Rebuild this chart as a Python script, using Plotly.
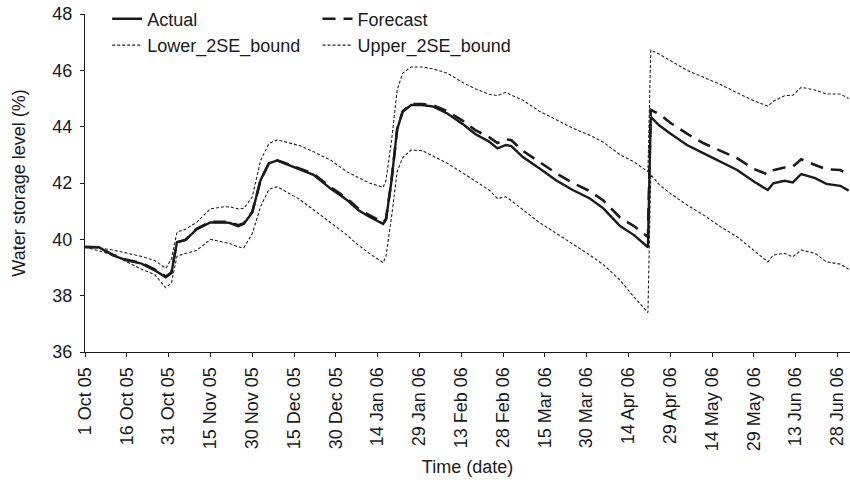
import pandas as pd
import plotly.graph_objects as go

# Days after 1 Oct 2005
day_offsets = [0, 5, 10, 15, 20, 25, 29, 31, 33, 36, 40, 45, 50, 52, 55, 57, 60, 63, 66, 69,
               72, 77, 82, 88, 94, 98, 102, 107, 108, 110, 112, 114, 117, 121, 125, 130, 136, 140,
               145, 148, 151, 153, 157, 163, 169, 175, 181, 186, 192, 197, 202, 203, 206, 210,
               216, 222, 228, 234, 240, 245, 247, 251, 254, 257, 262, 266, 271, 274]

actual = [39.73, 39.72, 39.43, 39.25, 39.15, 38.9, 38.65, 38.8, 39.9, 39.97, 40.35, 40.6, 40.6, 40.58,
          40.47, 40.55, 40.95, 42.1, 42.7, 42.8, 42.68, 42.49, 42.29, 41.81, 41.4, 41.04, 40.8, 40.55,
          40.69, 42.1, 43.9, 44.53, 44.77, 44.77, 44.71, 44.47, 44.06, 43.74, 43.47, 43.23, 43.35,
          43.31, 42.93, 42.52, 42.1, 41.75, 41.46, 41.1, 40.47, 40.15, 39.72, 44.35, 44.05, 43.76,
          43.35, 43.05, 42.76, 42.46, 42.05, 41.75, 41.99, 42.08, 42.02, 42.32, 42.17, 41.97, 41.9, 41.73]

forecast = [39.73, 39.72, 39.45, 39.27, 39.17, 38.93, 38.68, 38.82, 39.9, 39.98, 40.37, 40.62, 40.62, 40.6,
            40.5, 40.57, 40.97, 42.1, 42.7, 42.8, 42.7, 42.52, 42.33, 41.86, 41.46, 41.1, 40.86, 40.6,
            40.72, 42.1, 43.9, 44.55, 44.8, 44.8, 44.76, 44.55, 44.18, 43.88, 43.63, 43.42, 43.55,
            43.52, 43.15, 42.75, 42.35, 42.0, 41.72, 41.38, 40.77, 40.47, 40.08, 44.6, 44.45, 44.14,
            43.75, 43.41, 43.15, 42.88, 42.5, 42.3, 42.45, 42.55, 42.58, 42.84, 42.64, 42.49, 42.46, 42.3]

lower_2se = [39.73, 39.6, 39.45, 39.2, 38.95, 38.75, 38.28, 38.45, 39.4, 39.5, 39.6, 40.0, 39.9, 39.85,
             39.73, 39.7, 40.2, 41.16, 41.78, 41.87, 41.7, 41.42, 41.05, 40.6, 40.15, 39.8, 39.5, 39.17,
             39.4, 40.8, 42.4, 42.9, 43.17, 43.15, 42.95, 42.7, 42.33, 42.08, 41.75, 41.45, 41.51,
             41.37, 41.05, 40.6, 40.22, 39.85, 39.45, 39.1, 38.55, 37.95, 37.4, 42.3, 41.95, 41.63,
             41.22, 40.86, 40.45, 40.09, 39.62, 39.2, 39.44, 39.5, 39.38, 39.62, 39.5, 39.2, 39.12, 38.94]

upper_2se = [39.73, 39.7, 39.62, 39.5, 39.4, 39.25, 38.97, 39.3, 40.25, 40.36, 40.6, 41.08, 41.16, 41.15,
             41.08, 41.1, 41.5, 42.8, 43.4, 43.53, 43.45, 43.33, 43.11, 42.82, 42.4, 42.2, 42.0, 41.85,
             42.1, 43.5, 45.3, 45.9, 46.12, 46.12, 46.05, 45.9, 45.54, 45.35, 45.15, 45.1, 45.22,
             45.12, 44.95, 44.55, 44.25, 43.95, 43.7, 43.45, 43.0, 42.75, 42.4, 46.72, 46.58, 46.35,
             46.0, 45.75, 45.5, 45.2, 44.92, 44.73, 44.9, 45.1, 45.12, 45.4, 45.3, 45.16, 45.16, 45.0]

tick_dates = ["2005-10-01", "2005-10-16", "2005-10-31", "2005-11-15", "2005-11-30", "2005-12-15",
              "2005-12-30", "2006-01-14", "2006-01-29", "2006-02-13", "2006-02-28", "2006-03-15",
              "2006-03-30", "2006-04-14", "2006-04-29", "2006-05-14", "2006-05-29", "2006-06-13",
              "2006-06-28"]
tick_labels = ["1 Oct 05", "16 Oct 05", "31 Oct 05", "15 Nov 05", "30 Nov 05", "15 Dec 05",
               "30 Dec 05", "14 Jan 06", "29 Jan 06", "13 Feb 06", "28 Feb 06", "15 Mar 06",
               "30 Mar 06", "14 Apr 06", "29 Apr 06", "14 May 06", "29 May 06", "13 Jun 06",
               "28 Jun 06"]
y_ticks = [36, 38, 40, 42, 44, 46, 48]

dates = pd.Timestamp("2005-10-01") + pd.to_timedelta(day_offsets, unit="D")

FONT = "Liberation Sans, Arial, sans-serif"
INK = "#1a1a1a"

fig = go.Figure()
fig.add_trace(go.Scatter(x=dates, y=actual, name="Actual", mode="lines", legend="legend",
                         line=dict(color=INK, width=2.4)))
fig.add_trace(go.Scatter(x=dates, y=forecast, name="Forecast", mode="lines", legend="legend2",
                         line=dict(color=INK, width=2.6, dash="13px,8px")))
fig.add_trace(go.Scatter(x=dates, y=lower_2se, name="Lower_2SE_bound", mode="lines", legend="legend",
                         line=dict(color="#222222", width=1.1, dash="3px,2px")))
fig.add_trace(go.Scatter(x=dates, y=upper_2se, name="Upper_2SE_bound", mode="lines", legend="legend2",
                         line=dict(color="#222222", width=1.1, dash="3px,2px")))

leg_common = dict(orientation="v", yanchor="top", xanchor="left", bgcolor="rgba(0,0,0,0)",
                  font=dict(size=18, color=INK), tracegroupgap=0, itemwidth=30, borderwidth=0)

fig.update_layout(
    width=850, height=485,
    margin=dict(l=85, r=0, t=14, b=133, autoexpand=False),
    paper_bgcolor="white", plot_bgcolor="white",
    font=dict(family=FONT, size=18, color=INK),
    showlegend=True,
    legend=dict(x=0.029, y=1.04, **leg_common),
    legend2=dict(x=0.304, y=1.04, **leg_common),
    xaxis=dict(
        range=["2005-10-01", "2006-07-02 12:00"], automargin=False,
        tickmode="array", tickvals=tick_dates, ticktext=tick_labels, tickangle=-90,
        ticks="outside", ticklen=4, tickcolor=INK, showline=True, linecolor=INK,
        linewidth=1, showgrid=False, zeroline=False, ticklabelstandoff=3,
        ticklabeloverflow="allow", tickfont=dict(size=18),
        title=dict(text="Time (date)", standoff=10, font=dict(size=18)),
    ),
    yaxis=dict(
        range=[36, 48], tickmode="array", tickvals=y_ticks, automargin=False,
        ticks="outside", ticklen=4, tickcolor=INK, showline=True, linecolor=INK,
        linewidth=1, showgrid=False, zeroline=False, ticklabelstandoff=4,
        ticklabeloverflow="allow", tickfont=dict(size=18),
        title=dict(text="Water storage level (%)", standoff=22, font=dict(size=18)),
    ),
)

# Remove the default page margin so the 850x485 figure fills the window exactly.
fig.write_html("out.html", config={"displayModeBar": False},
               post_script="document.body.style.margin='0';")
